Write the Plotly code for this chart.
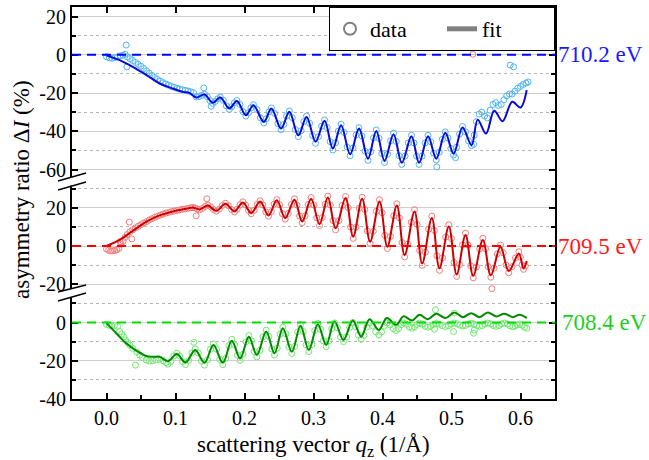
import plotly.graph_objects as go

# ---------------- data ----------------
# 710.2 eV (top panel)
q_blue = [0.000, 0.004, 0.008, 0.012, 0.016, 0.020, 0.024, 0.027, 0.0285, 0.0295,
          0.030, 0.034, 0.038, 0.042, 0.046, 0.050, 0.054, 0.058, 0.062, 0.066,
          0.070, 0.074, 0.078, 0.082, 0.086, 0.090, 0.094, 0.098, 0.102, 0.106,
          0.110, 0.114, 0.118, 0.122, 0.126, 0.130, 0.134, 0.138, 0.141, 0.142,
          0.146, 0.150, 0.1517, 0.154, 0.1577, 0.1613, 0.165, 0.1693, 0.1737, 0.178,
          0.1817, 0.1853, 0.189, 0.1933, 0.1977, 0.202, 0.2057, 0.2093, 0.213, 0.218,
          0.223, 0.228, 0.2317, 0.2353, 0.239, 0.2437, 0.2483, 0.253, 0.257, 0.261,
          0.265, 0.2693, 0.2737, 0.278, 0.282, 0.286, 0.290, 0.2943, 0.2987, 0.303,
          0.3073, 0.3117, 0.316, 0.320, 0.324, 0.328, 0.332, 0.336, 0.340, 0.3443,
          0.3487, 0.353, 0.3573, 0.3617, 0.366, 0.3703, 0.3747, 0.379, 0.383, 0.387,
          0.391, 0.395, 0.399, 0.403, 0.4073, 0.4117, 0.416, 0.420, 0.424, 0.428,
          0.4327, 0.4373, 0.442, 0.4457, 0.4493, 0.453, 0.4573, 0.4617, 0.466, 0.470,
          0.474, 0.478, 0.4787, 0.4823, 0.4867, 0.491, 0.495, 0.499, 0.503, 0.5058,
          0.5073, 0.5117, 0.516, 0.5203, 0.5247, 0.529, 0.532, 0.533, 0.536, 0.540,
          0.544, 0.548, 0.552, 0.556, 0.560, 0.564, 0.568, 0.572, 0.576, 0.580,
          0.584, 0.585, 0.588, 0.590, 0.592, 0.596, 0.600, 0.604, 0.608, 0.611]
dI_blue = [-1.0, -1.6, -1.8, -1.5, -1.0, -0.5, -0.2, 0.3, 5.1, -6.3,
           -1.0, -2.0, -3.0, -4.0, -5.0, -6.0, -7.2, -8.4, -9.6, -10.8,
           -11.9, -12.9, -13.8, -14.6, -15.3, -15.9, -16.5, -17.0, -17.5, -17.9,
           -18.3, -18.6, -18.9, -19.3, -19.8, -22.0, -21.9, -21.2, -17.3, -20.6,
           -21.9, -24.0, -26.9, -25.4, -24.4, -23.0, -22.1, -23.8, -26.7, -28.5,
           -27.1, -25.1, -23.9, -26.0, -29.7, -32.0, -30.3, -27.7, -26.1, -28.6,
           -32.9, -35.6, -33.4, -29.9, -27.8, -30.7, -36.0, -39.2, -36.4, -32.0,
           -29.4, -32.9, -39.0, -42.8, -39.7, -34.9, -32.0, -35.8, -42.3, -46.3,
           -42.8, -37.3, -34.0, -38.1, -45.4, -49.8, -46.0, -39.9, -36.3, -40.6,
           -48.2, -52.8, -48.7, -41.9, -38.1, -42.5, -50.4, -55.2, -50.7, -43.4,
           -39.3, -43.7, -51.6, -56.3, -52.0, -45.0, -41.0, -45.3, -52.8, -57.3,
           -53.0, -46.1, -42.1, -46.1, -53.0, -57.3, -53.0, -46.1, -42.1, -45.5,
           -51.4, -55.0, -58.6, -50.9, -44.2, -40.3, -43.5, -49.0, -52.4, -53.8,
           -48.3, -41.4, -37.5, -40.3, -45.0, -47.5, -46.8, -42.0, -35.0, -31.0,
           -30.0, -32.0, -33.0, -29.0, -26.0, -25.0, -26.5, -26.0, -23.5, -21.5,
           -20.5, -5.4, -20.5, -6.3, -19.0, -17.5, -16.5, -15.5, -14.8, -14.2]
q_blue_fit = [0.000, 0.019, 0.038, 0.058, 0.077, 0.096, 0.111, 0.120,
              0.130, 0.142, 0.154, 0.165, 0.178, 0.189, 0.202, 0.213,
              0.228, 0.239, 0.253, 0.265, 0.278, 0.290, 0.303, 0.316,
              0.328, 0.340, 0.353, 0.366, 0.379, 0.391, 0.403, 0.416,
              0.428, 0.442, 0.453, 0.466, 0.478, 0.491, 0.503, 0.516,
              0.529, 0.538, 0.550, 0.562, 0.574, 0.588, 0.600, 0.609]
dI_blue_fit = [-0.3, -2.8, -6.3, -10.6, -15.0, -17.6, -19.4, -19.9,
               -22.3, -20.8, -25.1, -22.3, -28.1, -24.1, -31.6, -26.4,
               -35.1, -28.1, -38.6, -29.8, -42.1, -32.5, -45.5, -34.5,
               -49.0, -36.8, -52.0, -38.6, -54.3, -39.8, -55.5, -41.5,
               -56.5, -42.6, -56.5, -42.6, -54.3, -40.8, -51.7, -38.0,
               -47.3, -33.9, -41.2, -29.3, -34.7, -24.6, -27.6, -18.5]

# 709.5 eV (middle panel)
q_red = [0.000, 0.003, 0.006, 0.009, 0.012, 0.015, 0.018, 0.0198, 0.021, 0.024,
         0.027, 0.030, 0.033, 0.034, 0.0367, 0.038, 0.042, 0.046, 0.050, 0.054,
         0.058, 0.062, 0.066, 0.070, 0.074, 0.078, 0.082, 0.086, 0.090, 0.094,
         0.098, 0.102, 0.106, 0.110, 0.114, 0.118, 0.122, 0.125, 0.1283, 0.130,
         0.1315, 0.1348, 0.1389, 0.1429, 0.1454, 0.147, 0.151, 0.155, 0.159, 0.1635,
         0.168, 0.1725, 0.1768, 0.1812, 0.1855, 0.1895, 0.1936, 0.1976, 0.2016, 0.2057,
         0.2097, 0.214, 0.2184, 0.2227, 0.2267, 0.2308, 0.2348, 0.2388, 0.2429, 0.2469,
         0.2509, 0.255, 0.259, 0.2635, 0.268, 0.2725, 0.2762, 0.2799, 0.2836, 0.2879,
         0.2923, 0.2966, 0.3006, 0.3047, 0.3087, 0.3127, 0.3168, 0.3208, 0.3245, 0.3283,
         0.332, 0.3368, 0.3416, 0.3464, 0.3501, 0.3538, 0.3575, 0.3618, 0.3662, 0.3705,
         0.3743, 0.3782, 0.382, 0.3866, 0.3911, 0.3957, 0.3995, 0.4032, 0.407, 0.4116,
         0.4162, 0.4208, 0.4245, 0.4283, 0.432, 0.4368, 0.4416, 0.4464, 0.4501, 0.4538,
         0.4575, 0.4622, 0.4668, 0.4715, 0.4752, 0.4788, 0.4825, 0.487, 0.4916, 0.4961,
         0.4999, 0.5037, 0.5075, 0.5118, 0.516, 0.5203, 0.524, 0.5278, 0.5315, 0.5361,
         0.5408, 0.5454, 0.5493, 0.5531, 0.557, 0.5585, 0.5617, 0.5663, 0.571, 0.575,
         0.579, 0.583, 0.5879, 0.5927, 0.5976, 0.5998, 0.6021, 0.6043, 0.607]
dI_red = [-1.5, -2.2, -2.5, -2.5, -2.3, -2.0, -1.2, 2.3, 1.0, 2.5,
          4.5, 6.0, 12.5, 7.5, 3.7, 8.5, 9.5, 10.3, 11.2, 12.0,
          12.8, 13.6, 14.3, 15.0, 15.6, 16.2, 16.7, 17.2, 17.6, 18.0,
          18.3, 18.6, 18.9, 19.2, 19.4, 19.7, 20.0, 20.2, 19.9, 15.8,
          19.4, 18.9, 19.6, 20.7, 24.7, 21.4, 20.5, 19.1, 18.2, 19.3,
          21.2, 22.4, 21.1, 19.1, 17.8, 19.3, 21.6, 23.1, 21.4, 18.6,
          16.9, 18.7, 21.8, 23.7, 21.5, 17.8, 15.6, 18.0, 21.9, 24.3,
          21.6, 16.9, 14.1, 17.0, 21.8, 24.7, 21.4, 15.7, 12.2, 15.8,
          21.7, 25.3, 21.4, 14.7, 10.7, 14.9, 21.9, 26.1, 21.4, 13.3,
          8.5, 13.3, 21.2, 25.9, 20.1, 9.9, 4.0, 9.9, 19.8, 25.5,
          19.1, 7.9, 1.4, 7.6, 18.1, 24.2, 17.4, 5.6, -1.3, 5.0,
          15.8, 22.1, 14.7, 1.8, -5.7, 1.0, 12.4, 19.0, 11.3, -2.3,
          -10.1, -3.2, 8.8, 15.6, 8.1, -5.1, -12.7, -6.2, 4.7, 11.1,
          3.9, -8.6, -15.9, -9.7, 0.6, 6.7, 0.5, -10.3, -16.6, -10.9,
          -1.5, 4.1, -1.4, -10.7, -16.3, -22.3, -11.6, -4.1, 0.5, -3.5,
          -9.9, -14.0, -10.8, -6.2, -3.0, -5.9, -9.8, -12.2, -10.5]
q_red_fit = [0.000, 0.019, 0.038, 0.058, 0.077, 0.096, 0.1155, 0.125,
             0.1348, 0.147, 0.159, 0.1725, 0.1855, 0.1976, 0.2097, 0.2227,
             0.2348, 0.2469, 0.259, 0.2725, 0.2836, 0.2966, 0.3087, 0.3208,
             0.332, 0.3464, 0.3575, 0.3705, 0.382, 0.3957, 0.407, 0.4208,
             0.432, 0.4464, 0.4575, 0.4715, 0.4825, 0.4961, 0.5075, 0.5203,
             0.5315, 0.5454, 0.557, 0.571, 0.583, 0.5976, 0.6043, 0.6092]
dI_red_fit = [0.0, 3.2, 7.9, 12.8, 16.0, 18.1, 19.5, 20.2,
              19.1, 21.2, 18.4, 22.1, 18.1, 22.8, 17.2, 23.3,
              16.0, 23.9, 14.6, 24.2, 12.8, 24.7, 11.4, 25.4,
              9.3, 25.1, 4.9, 24.7, 2.3, 23.3, -0.35, 21.2,
              -4.7, 18.1, -9.1, 14.7, -11.7, 10.2, -14.9, 5.8,
              -15.6, 3.2, -15.3, -0.35, -13.1, -3.9, -11.7, -7.9]
# a stray 709.5 eV point that sits in the top panel
q_red_stray = [0.531]
dI_red_stray = [0.3]

# 708.4 eV (bottom panel)
q_green = [0.000, 0.004, 0.008, 0.012, 0.016, 0.019, 0.022, 0.025, 0.0275, 0.031,
           0.034, 0.038, 0.042, 0.044, 0.048, 0.052, 0.0575, 0.062, 0.067, 0.072,
           0.077, 0.082, 0.0865, 0.0889, 0.0932, 0.0976, 0.1019, 0.1061, 0.1103, 0.1145,
           0.1192, 0.1238, 0.1266, 0.1285, 0.133, 0.1375, 0.142, 0.1463, 0.1507, 0.155,
           0.1595, 0.1641, 0.1686, 0.1729, 0.1773, 0.1816, 0.1856, 0.1897, 0.1937, 0.1979,
           0.2021, 0.2063, 0.2102, 0.214, 0.2179, 0.2224, 0.2269, 0.2314, 0.2354, 0.2395,
           0.2435, 0.2475, 0.2516, 0.2556, 0.2599, 0.2643, 0.2686, 0.2728, 0.277, 0.2812,
           0.2852, 0.2892, 0.2932, 0.2976, 0.3019, 0.3063, 0.3103, 0.3144, 0.3184, 0.3224,
           0.3264, 0.3304, 0.3348, 0.3391, 0.3435, 0.348, 0.3525, 0.357, 0.361, 0.3651,
           0.3691, 0.3731, 0.3772, 0.3812, 0.3857, 0.3902, 0.3947, 0.3986, 0.4024, 0.4063,
           0.4108, 0.4153, 0.4198, 0.4233, 0.4269, 0.4304, 0.4346, 0.4388, 0.443, 0.4465,
           0.4501, 0.4536, 0.4576, 0.4617, 0.4657, 0.4697, 0.4738, 0.4754, 0.4768, 0.4778,
           0.4823, 0.4868, 0.4913, 0.4956, 0.5, 0.5029, 0.504, 0.5043, 0.5083, 0.5124,
           0.5164, 0.5204, 0.5245, 0.5285, 0.5319, 0.533, 0.5325, 0.5366, 0.5406, 0.5446,
           0.5487, 0.5527, 0.5567, 0.5607, 0.5647, 0.5687, 0.5728, 0.5768, 0.5808, 0.5849,
           0.5889, 0.5921, 0.5954, 0.5986, 0.6021, 0.6057, 0.6092]
dI_green = [-1.0, -1.5, -1.8, -1.5, -2.0, -4.7, -6.0, -7.5, -9.1, -10.5,
            -11.8, -13.5, -22.3, -15.5, -17.0, -18.3, -19.6, -20.2, -20.0, -19.6,
            -19.2, -20.0, -21.0, -21.8, -20.4, -17.5, -16.0, -17.5, -20.5, -22.0,
            -19.9, -15.9, -10.4, -13.8, -15.9, -20.2, -22.3, -19.5, -14.0, -11.2,
            -13.9, -19.3, -22.0, -18.7, -12.1, -8.8, -11.6, -17.1, -19.8, -16.6,
            -10.1, -6.8, -9.6, -15.2, -18.0, -14.5, -7.5, -4.0, -7.3, -13.8,
            -17.0, -13.4, -6.1, -2.4, -5.9, -12.8, -16.2, -12.5, -4.9, -1.2,
            -4.7, -11.7, -15.2, -11.5, -4.2, -0.5, -3.5, -9.6, -12.6, -9.5,
            -3.3, -0.2, -2.7, -7.6, -10.0, -7.5, -2.5, 0.0, -2.2, -6.6,
            -8.8, -6.7, -2.4, -0.2, -1.8, -4.9, -6.5, -5.0, -1.9, -0.3,
            -1.3, -3.2, -4.2, -3.2, -1.2, -0.2, -0.9, -2.3, -3.0, -2.3,
            -1.0, -0.3, -0.9, -2.0, -2.5, -2.0, -1.0, -3.5, 6.7, -0.5,
            -0.9, -1.7, -2.1, -1.7, -0.8, -4.7, 4.9, -0.3, -0.7, -1.4,
            -1.8, -1.5, -0.8, -0.4, -5.6, -4.0, -0.8, -1.6, -2.0, -1.6,
            -0.7, -0.3, -0.7, -1.6, -2.0, -1.6, -0.7, -0.3, -0.8, -1.7,
            -2.2, -1.9, -1.2, -0.8, -1.4, -2.5, -3.0]
q_green_fit = [0.000, 0.014, 0.0285, 0.043, 0.0575, 0.0671, 0.0768, 0.0889,
               0.1019, 0.1145, 0.1285, 0.142, 0.155, 0.1686, 0.1816, 0.1937,
               0.2063, 0.2179, 0.2314, 0.2435, 0.2556, 0.2686, 0.2812, 0.2932,
               0.3063, 0.3184, 0.3304, 0.3435, 0.357, 0.3691, 0.3812, 0.3947,
               0.4063, 0.4198, 0.4304, 0.4430, 0.4536, 0.4657, 0.4778, 0.4913,
               0.5043, 0.5164, 0.5285, 0.5406, 0.5527, 0.5647, 0.5768, 0.5889,
               0.5986, 0.6092]
dI_green_fit = [-0.35, -5.6, -10.9, -14.7, -17.5, -17.9, -17.9, -20.2,
                -16.5, -20.9, -14.4, -21.1, -11.8, -21.1, -9.5, -18.8,
                -7.4, -17.0, -4.7, -16.1, -3.0, -15.3, -1.75, -14.4,
                -0.9, -11.8, 0.5, -9.1, 1.05, -7.4, 1.75, -3.9,
                2.3, -1.2, 3.2, 1.05, 4.0, 1.75, 4.6, 2.3,
                5.3, 2.8, 4.9, 2.8, 5.3, 3.2, 4.6, 2.8,
                4.0, 2.3]

energy_labels = ["710.2 eV", "709.5 eV", "708.4 eV"]
x_ticks = [0.0, 0.1, 0.2, 0.3, 0.4, 0.5, 0.6]
x_tick_labels = ["0.0", "0.1", "0.2", "0.3", "0.4", "0.5", "0.6"]
y_ticks_top = [-60, -40, -20, 0, 20]
y_minor_top = [-50, -30, -10, 10]
y_ticks_mid = [-20, 0, 20]
y_minor_mid = [-10, 10, 30]
y_ticks_bot = [-40, -20, 0]
y_minor_bot = [-30, -10, 10]

# ---------------- styling ----------------
FONT = "Liberation Serif"
W, H = 649, 460
ML, MR, MT, MB = 72, 94, 7, 61
PW, PH = W - ML - MR, H - MT - MB

def px_x(p):
    return (p - ML) / PW

def px_y(p):
    return (H - MB - p) / PH

fig = go.Figure()

def add_series(q, v, qf, vf, c_data, c_fit, yax):
    fig.add_trace(go.Scatter(x=q, y=v, mode="markers", yaxis=yax, xaxis="x",
                             marker=dict(symbol="circle-open", size=6, color=c_data,
                                         line=dict(width=1, color=c_data)),
                             showlegend=False, hoverinfo="skip"))
    fig.add_trace(go.Scatter(x=qf, y=vf, mode="lines", yaxis=yax, xaxis="x",
                             line=dict(color=c_fit, width=2, shape="spline", smoothing=1.0),
                             showlegend=False, hoverinfo="skip"))

add_series(q_blue, dI_blue, q_blue_fit, dI_blue_fit, "#4fb4f2", "#0a0ad8", "y3")
add_series(q_red, dI_red, q_red_fit, dI_red_fit, "#f47a7a", "#cc0000", "y2")
add_series(q_green, dI_green, q_green_fit, dI_green_fit, "#6ee86e", "#008a00", "y")
fig.add_trace(go.Scatter(x=q_red_stray, y=dI_red_stray, mode="markers", yaxis="y3", xaxis="x",
                         marker=dict(symbol="circle-open", size=6, color="#f47a7a"),
                         showlegend=False, hoverinfo="skip"))

# legend-only entries (grey), also host the top mirror axis
fig.add_trace(go.Scatter(x=[None], y=[None], mode="markers", name="data", xaxis="x2", yaxis="y3",
                         marker=dict(symbol="circle-open", size=6, color="#808080",
                                     line=dict(width=1.5, color="#808080"))))
fig.add_trace(go.Scatter(x=[None], y=[None], mode="lines", name="fit", xaxis="x2", yaxis="y3",
                         line=dict(color="#808080", width=1.5)))

tickfont = dict(family=FONT, size=20, color="black")

def yaxis(domain, rng, major, minor):
    return dict(domain=domain, range=rng, anchor="x", tickmode="array", tickvals=major,
                ticktext=[str(v) for v in major], ticks="inside", ticklen=6, tickwidth=1.5,
                tickcolor="black", showline=True, linewidth=2, linecolor="black",
                mirror="ticks", showgrid=True, gridcolor="#cfcfcf", gridwidth=1,
                zeroline=False, tickfont=tickfont, fixedrange=True,
                minor=dict(tickmode="array", tickvals=minor, ticks="inside", ticklen=4,
                           tickwidth=1.5, tickcolor="black", showgrid=True,
                           gridcolor="#b5b5b5", griddash="dot", gridwidth=1))

b1 = 55 / 205
b2 = 115 / 205
fig.update_layout(
    width=W, height=H,
    margin=dict(l=ML, r=MR, t=MT, b=MB),
    paper_bgcolor="white", plot_bgcolor="white",
    font=dict(family=FONT, color="black"),
    xaxis=dict(domain=[0, 1], range=[-0.05, 0.65], anchor="y", tickmode="array",
               tickvals=x_ticks, ticktext=x_tick_labels, ticks="inside", ticklen=6,
               tickwidth=1.5, tickcolor="black", showline=True, linewidth=2,
               linecolor="black", showgrid=False, zeroline=False, tickfont=tickfont,
               fixedrange=True,
               minor=dict(tickmode="linear", tick0=0, dtick=0.05, ticks="inside",
                          ticklen=4, tickwidth=1.5, tickcolor="black", showgrid=False)),
    xaxis2=dict(range=[-0.05, 0.65], anchor="y3", side="top", overlaying="x",
                tickmode="array", tickvals=x_ticks, ticks="inside", ticklen=6,
                tickwidth=1.5, tickcolor="black", showticklabels=False, showline=True,
                linewidth=2, linecolor="black", showgrid=False, zeroline=False,
                fixedrange=True),
    yaxis=yaxis([0, b1], [-40, 15], y_ticks_bot, y_minor_bot),
    yaxis2=yaxis([b1, b2], [-25, 35], y_ticks_mid, y_minor_mid),
    yaxis3=yaxis([b2, 1], [-65, 25], y_ticks_top, y_minor_top),
    legend=dict(orientation="h", x=1, xanchor="right", y=1, yanchor="top",
                bgcolor="white", bordercolor="black", borderwidth=1,
                font=dict(family=FONT, size=22, color="black"),
                entrywidth=67, itemsizing="constant"),
    showlegend=True,
)

shapes = []
for yref, col in (("y3", "#0000ff"), ("y2", "#ff0000"), ("y", "#00dd00")):
    shapes.append(dict(type="line", xref="x domain", x0=0, x1=1, yref=yref, y0=0, y1=0,
                       line=dict(color=col, width=2, dash="9px,6px"), layer="above"))
# axis breaks on the left axis
for gap_top, gap_bot, a, b in ((177.5, 185.5, (181, 173), (190, 182)),
                               (288.5, 297.0, (292, 285), (301, 293))):
    shapes.append(dict(type="rect", xref="paper", yref="paper",
                       x0=px_x(68), x1=px_x(76.5), y0=px_y(gap_bot), y1=px_y(gap_top),
                       fillcolor="white", line=dict(width=0), layer="above"))
    for (ya, yb) in (a, b):
        shapes.append(dict(type="line", xref="paper", yref="paper",
                           x0=px_x(58), x1=px_x(86), y0=px_y(ya), y1=px_y(yb),
                           line=dict(color="black", width=1.5), layer="above"))
fig.update_layout(shapes=shapes)

annotations = [
    dict(text=energy_labels[0], xref="paper", x=1, xanchor="left", xshift=1,
         yref="y3", y=0, yanchor="middle", showarrow=False,
         font=dict(family=FONT, size=23, color="#1a1aff")),
    dict(text=energy_labels[1], xref="paper", x=1, xanchor="left", xshift=1,
         yref="y2", y=0, yanchor="middle", showarrow=False,
         font=dict(family=FONT, size=23, color="#ff1a1a")),
    dict(text=energy_labels[2], xref="paper", x=1, xanchor="left", xshift=5,
         yref="y", y=0, yanchor="middle", showarrow=False,
         font=dict(family=FONT, size=23, color="#1ecf1e")),
    dict(text="asymmetry ratio Δ<i>I</i> (%)", xref="paper", yref="paper",
         x=px_x(21), y=px_y(190), xanchor="center", yanchor="middle", textangle=-90,
         showarrow=False, font=dict(family=FONT, size=23, color="black")),
    dict(text="scattering vector <i>q</i><sub>z</sub> (1/Å)", xref="paper", yref="paper",
         x=px_x(313), y=px_y(446), xanchor="center", yanchor="middle",
         showarrow=False, font=dict(family=FONT, size=23, color="black")),
]
fig.update_layout(annotations=annotations)

fig.write_html("out.html", config={"displayModeBar": False},
               post_script="document.body.style.margin='0';document.body.style.padding='0';")
